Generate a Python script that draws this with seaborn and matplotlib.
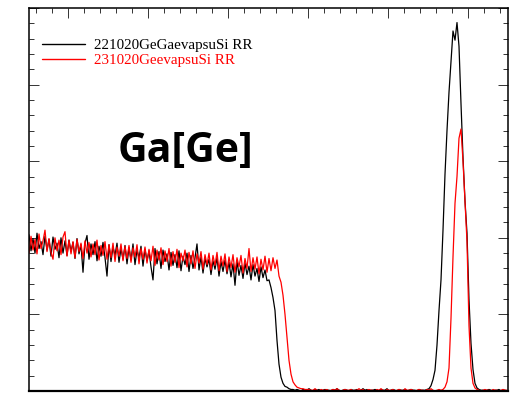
import numpy as np
import pandas as pd
import matplotlib
matplotlib.use("Agg")
import matplotlib.pyplot as plt
from matplotlib.ticker import MultipleLocator
import seaborn as sns

# Channel calibration: first channel position and channel width (axis units)
X_START = -0.4875
X_STEP = 0.025

# --- 221020GeGaevapsuSi RR (black) ---
black_plateau = [
    2.04, 1.83, 1.99, 1.80, 2.06, 1.86, 1.95, 1.78, 2.02, 1.84,
    1.98, 1.76, 2.01, 1.85, 1.93, 1.74, 2.00, 1.80, 1.96, 1.77,
    1.97, 1.82, 1.94, 1.73, 1.99, 1.79, 1.91, 1.55, 1.93, 2.03,
    1.72, 1.92, 1.78, 1.95, 1.70, 1.89, 1.76, 1.94, 1.74, 1.50,
    1.91, 1.69, 1.88, 1.77, 1.93, 1.68, 1.86, 1.72, 1.90, 1.66,
    1.87, 1.71, 1.92, 1.65, 1.84, 1.74, 1.89, 1.63, 1.85, 1.70,
    1.83, 1.62, 1.45, 1.86, 1.66, 1.82, 1.60, 1.84, 1.69, 1.79,
    1.58, 1.81, 1.64, 1.78, 1.61, 1.83, 1.57, 1.76, 1.65, 1.80,
    1.56, 1.77, 1.60, 1.74, 1.92, 1.58, 1.75, 1.54, 1.73, 1.62,
    1.72, 1.52, 1.70, 1.59, 1.74, 1.50, 1.69, 1.56, 1.71, 1.53,
    1.68, 1.49, 1.66, 1.38, 1.70, 1.51, 1.64, 1.47, 1.67, 1.52,
    1.63, 1.45, 1.65, 1.50, 1.60, 1.43, 1.62, 1.48, 1.58, 1.44,
]
black_edge = [1.45, 1.35, 1.22, 1.05, 0.66, 0.35, 0.18, 0.10, 0.06, 0.05,
              0.03, 0.02, 0.02]
black_base = [
    0.01, 0.02, 0.01, 0.00, 0.02, 0.01, 0.01, 0.03, 0.01, 0.00,
    0.02, 0.01, 0.02, 0.00, 0.01, 0.02, 0.01, 0.01, 0.00, 0.02,
    0.01, 0.03, 0.01, 0.00, 0.01, 0.02, 0.01, 0.00, 0.02, 0.01,
    0.01, 0.02, 0.00, 0.01, 0.03, 0.01, 0.02, 0.00, 0.01, 0.01,
    0.02, 0.01, 0.00, 0.02, 0.01, 0.01, 0.03, 0.00, 0.01, 0.02,
    0.01, 0.00, 0.02, 0.01, 0.01, 0.02, 0.00, 0.01, 0.02, 0.01,
    0.01, 0.00, 0.02, 0.01,
]
black_peak = [
    0.01, 0.01, 0.02, 0.03, 0.07, 0.15, 0.27, 0.60, 1.05, 1.45,
    2.10, 2.83, 3.40, 3.90, 4.30, 4.70, 4.58, 4.81, 4.50, 3.75,
    3.05, 2.48, 2.06, 1.19, 0.62, 0.28, 0.10, 0.04, 0.02, 0.01,
]
black_tail = [0.01, 0.00, 0.01, 0.02, 0.01, 0.00, 0.01, 0.01, 0.02, 0.00,
              0.01, 0.01, 0.00]

# --- 231020GeevapsuSi RR (red) ---
red_plateau = [
    1.80, 2.02, 1.84, 1.98, 1.79, 2.05, 1.86, 1.96, 2.10, 1.82,
    1.99, 1.81, 1.72, 2.00, 1.83, 1.97, 1.78, 2.01, 2.08, 1.76,
    1.97, 1.79, 1.95, 1.74, 1.98, 1.82, 1.93, 1.73, 1.96, 1.80,
    1.94, 1.75, 1.92, 1.78, 1.97, 1.71, 1.90, 1.77, 1.95, 1.72,
    1.91, 1.74, 1.93, 1.69, 1.88, 1.76, 1.92, 1.70, 1.89, 1.73,
    1.90, 1.68, 1.87, 1.75, 1.91, 1.66, 1.86, 1.72, 1.88, 1.67,
    1.85, 1.70, 1.89, 1.64, 1.84, 1.71, 1.87, 1.65, 1.83, 1.69,
    1.86, 1.63, 1.82, 1.68, 1.85, 1.61, 1.80, 1.70, 1.84, 1.62,
    1.81, 1.66, 1.83, 1.60, 1.79, 1.67, 1.82, 1.59, 1.78, 1.65,
    1.80, 1.58, 1.77, 1.64, 1.81, 1.57, 1.76, 1.63, 1.79, 1.56,
    1.75, 1.61, 1.78, 1.55, 1.74, 1.62, 1.77, 1.54, 1.73, 1.60,
    1.86, 1.56, 1.74, 1.59, 1.75, 1.53, 1.72, 1.58, 1.76, 1.55,
    1.73, 1.57, 1.74, 1.60, 1.71,
]
red_edge = [1.50, 1.42, 1.25, 1.00, 0.70, 0.40, 0.22, 0.12, 0.08, 0.05,
            0.04, 0.03, 0.03, 0.02, 0.02]
red_base = [
    0.02, 0.01, 0.01, 0.03, 0.01, 0.00, 0.02, 0.01, 0.01, 0.02,
    0.00, 0.01, 0.02, 0.01, 0.03, 0.01, 0.00, 0.01, 0.02, 0.01,
    0.01, 0.02, 0.00, 0.01, 0.01, 0.03, 0.01, 0.02, 0.00, 0.01,
    0.02, 0.01, 0.01, 0.00, 0.02, 0.01, 0.03, 0.01, 0.00, 0.02,
    0.01, 0.01, 0.02, 0.00, 0.01, 0.02, 0.01, 0.00, 0.03, 0.01,
    0.01, 0.02, 0.01, 0.00, 0.01, 0.02, 0.01, 0.01, 0.00, 0.02,
    0.01, 0.03, 0.01, 0.00, 0.01, 0.02,
]
red_peak = [
    0.01, 0.02, 0.05, 0.12, 0.30, 0.95, 1.75, 2.45, 2.80, 3.30,
    3.42, 3.00, 2.48, 1.95, 0.85, 0.30, 0.10, 0.04, 0.02, 0.01,
]
red_tail = [0.00, 0.01, 0.02, 0.01, 0.01, 0.00, 0.02, 0.01, 0.01, 0.00,
            0.01, 0.02, 0.01, 0.01]

series_names = ["221020GeGaevapsuSi RR", "231020GeevapsuSi RR"]
series_colors = ["black", "red"]

black = black_plateau + black_edge + black_base + black_peak + black_tail
red = red_plateau + red_edge + red_base + red_peak + red_tail

frames = []
for name, values in zip(series_names, [black, red]):
    ch = np.arange(len(values))
    frames.append(pd.DataFrame({
        "x": X_START + X_STEP * ch,
        "y": values,
        "series": name,
    }))
df = pd.concat(frames, ignore_index=True)

sns.set_style("white")
plt.rcParams["font.family"] = ["Liberation Serif", "DejaVu Serif"]
plt.rcParams["text.color"] = "black"

fig = plt.figure(figsize=(5.11, 3.94), dpi=100)
ax = fig.add_axes([29 / 511, 3 / 394, 479 / 511, 383 / 394])

sns.lineplot(data=df, x="x", y="y", hue="series", hue_order=series_names,
             palette=dict(zip(series_names, series_colors)),
             estimator=None, sort=False, linewidth=0.9, ax=ax)

ax.set_xlim(X_START, 5.5)
ax.set_ylim(0, 5)
ax.set_xlabel("")
ax.set_ylabel("")

ax.xaxis.set_major_locator(MultipleLocator(1))
ax.xaxis.set_minor_locator(MultipleLocator(0.2))
ax.yaxis.set_major_locator(MultipleLocator(1))
ax.yaxis.set_minor_locator(MultipleLocator(0.2))
ax.tick_params(which="both", direction="in", top=True, bottom=False,
               left=True, right=True, labelbottom=False, labelleft=False,
               color="#333333", width=0.7)
ax.tick_params(which="major", length=7.5)
ax.tick_params(which="minor", length=3.8)

for side in ["left", "right", "top"]:
    ax.spines[side].set_linewidth(1.1)
    ax.spines[side].set_color("black")
ax.spines["bottom"].set_linewidth(1.6)
ax.spines["bottom"].set_color("black")

leg = ax.legend(loc="upper left", bbox_to_anchor=(0.027, 0.92), frameon=False,
                borderpad=0, borderaxespad=0, handlelength=2.9,
                handletextpad=0.55, labelspacing=0.12,
                prop={"family": "Liberation Serif", "size": 10.8})
for text, color in zip(leg.get_texts(), series_colors):
    text.set_color(color)
for line in leg.get_lines():
    line.set_linewidth(1.0)

ax.text(0.326, 0.598, "Ga[Ge]", transform=ax.transAxes, ha="center",
        va="baseline", fontsize=29.5, fontweight="bold", color="black",
        family=["Open Sans", "DejaVu Sans"])

fig.savefig("out.png", dpi=100)
